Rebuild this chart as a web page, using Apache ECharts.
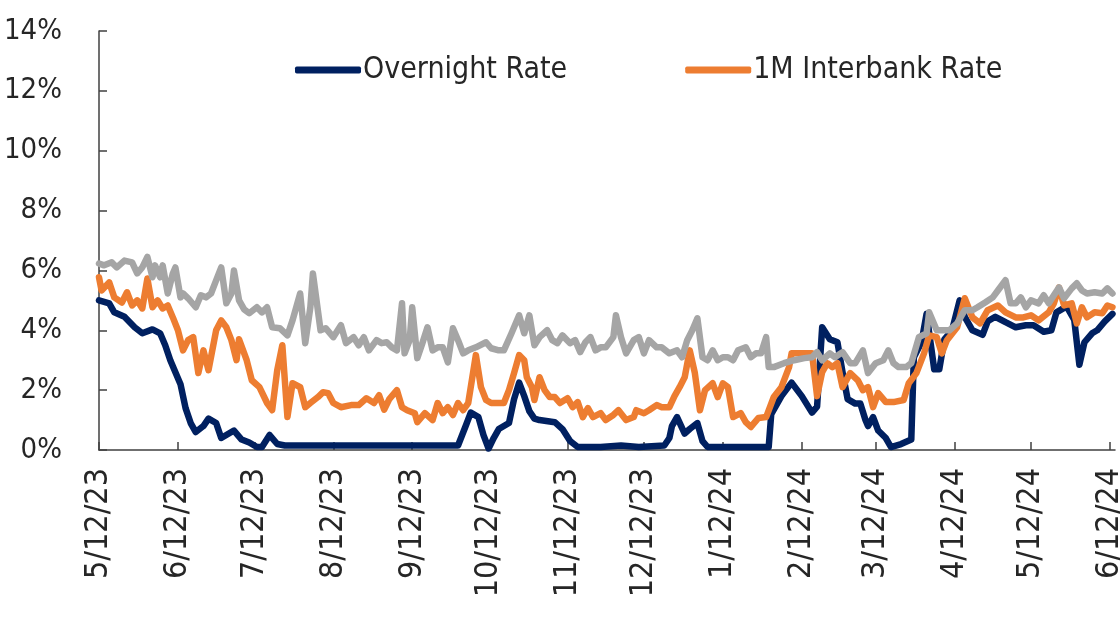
<!DOCTYPE html>
<html>
<head>
<meta charset="utf-8">
<script src="https://cdn.jsdelivr.net/npm/echarts@6/dist/echarts.min.js"></script>
<style>
  html, body { margin: 0; padding: 0; background: #fff; }
  #main { width: 1120px; height: 635px; }
</style>
</head>
<body>
<div id="main"></div>
<script>
// x values are days counted from 5/12/23
const tickDays = [0, 31, 61, 92, 123, 153, 184, 214, 245, 276, 305, 336, 366, 397];
const tickLabels = ['5/12/23', '6/12/23', '7/12/23', '8/12/23', '9/12/23', '10/12/23', '11/12/23',
  '12/12/23', '1/12/24', '2/12/24', '3/12/24', '4/12/24', '5/12/24', '6/12/24'];
const yTicks = [0, 2, 4, 6, 8, 10, 12, 14];

const overnightDays = [0, 2, 4, 6, 10, 14, 17, 21, 24, 26, 28, 30, 32, 34, 36, 38, 41, 43, 46, 48, 51, 53, 56, 59, 62, 64, 67, 70, 73, 100,
  141, 144, 146, 149, 151, 153, 155, 157, 161, 163, 165, 167, 169, 171, 173, 179, 182, 185, 188, 197, 205, 212, 222, 224, 225, 227, 230,
  232, 235, 237, 239, 263, 264, 268, 272, 276, 280, 282, 284, 287, 290, 292, 294, 297, 299, 301, 302, 304, 306, 309, 311, 315, 319, 320,
  323, 325, 328, 330, 332, 335, 338, 340, 343, 347, 349, 352, 356, 360, 364, 367, 371, 374, 376, 380, 383, 385, 387, 390, 392, 395, 398];
const overnightVals = [5.0, 4.95, 4.9, 4.6, 4.45, 4.1, 3.9, 4.03, 3.9, 3.5, 3.0, 2.6, 2.2, 1.4, 0.9, 0.6, 0.8, 1.05, 0.9, 0.4, 0.55, 0.65, 0.35, 0.25, 0.1, 0.1, 0.5, 0.2, 0.15, 0.15,
  0.15, 0.8, 1.25, 1.1, 0.5, 0.05, 0.4, 0.7, 0.9, 1.7, 2.25, 1.8, 1.3, 1.05, 1.0, 0.93, 0.7, 0.3, 0.1, 0.1, 0.15, 0.1, 0.15, 0.4, 0.8, 1.1, 0.55,
  0.7, 0.9, 0.3, 0.1, 0.1, 1.2, 1.8, 2.25, 1.8, 1.25, 1.45, 4.1, 3.7, 3.6, 2.6, 1.7, 1.55, 1.55, 1.0, 0.8, 1.1, 0.65, 0.4, 0.1, 0.2, 0.35, 3.1,
  3.6, 4.55, 2.7, 2.7, 3.7, 4.0, 5.0, 4.45, 4.0, 3.85, 4.3, 4.45, 4.27, 4.1, 4.17, 4.17, 3.95, 4.0, 4.6, 4.8, 4.35, 2.85, 3.6, 3.9, 4.0, 4.3, 4.55];

const interbankDays = [0, 1, 4, 6, 9, 11, 13, 15, 17, 19, 21, 23, 25, 27, 29, 31, 33, 35, 37, 39, 41, 43, 46, 48, 50, 52, 54, 55, 58, 60, 63, 66,
  68, 70, 72, 74, 76, 79, 81, 83, 86, 88, 90, 92, 95, 99, 102, 105, 108, 110, 112, 114, 117, 119, 121, 124, 125, 128, 131, 133, 135, 137, 139,
  141, 143, 145, 148, 150, 152, 154, 157, 159, 161, 163, 165, 167, 168, 170, 171, 173, 175, 177, 179, 181, 184, 186, 188, 190, 192, 194, 197,
  199, 202, 204, 207, 210, 211, 214, 216, 219, 221, 224, 226, 228, 230, 232, 234, 236, 238, 241, 243, 245, 247, 249, 252, 254, 256, 259, 262,
  265, 268, 271, 272, 276, 280, 282, 284, 286, 288, 290, 292, 295, 298, 300, 302, 304, 306, 309, 312, 316, 318, 321, 324, 326, 329, 331, 333,
  337, 340, 343, 346, 349, 353, 356, 360, 363, 366, 369, 373, 375, 377, 379, 382, 384, 386, 388, 391, 394, 396, 398];
const interbankVals = [5.77, 5.33, 5.6, 5.1, 4.93, 5.27, 4.83, 5.0, 4.73, 5.73, 4.77, 5.0, 4.73, 4.83, 4.43, 4.0, 3.33, 3.67, 3.77, 2.57, 3.33, 2.67, 4.0, 4.33, 4.1, 3.67, 3.0, 3.7, 3.0, 2.33, 2.1, 1.57,
  1.33, 2.67, 3.5, 1.1, 2.23, 2.1, 1.43, 1.57, 1.77, 1.93, 1.9, 1.57, 1.43, 1.5, 1.5, 1.73, 1.57, 1.83, 1.35, 1.7, 2.0, 1.43, 1.33, 1.23, 0.93, 1.23, 1.0, 1.57, 1.23, 1.43, 1.17,
  1.57, 1.33, 1.57, 3.17, 2.1, 1.67, 1.57, 1.57, 1.57, 2.0, 2.57, 3.17, 3.0, 2.43, 2.1, 1.67, 2.43, 2.0, 1.77, 1.77, 1.57, 1.73, 1.43, 1.6, 1.1, 1.4, 1.1, 1.23,
  1.0, 1.17, 1.33, 1.0, 1.1, 1.33, 1.23, 1.33, 1.5, 1.43, 1.43, 1.8, 2.1, 2.43, 3.33, 2.57, 1.33, 2.0, 2.23, 1.77, 2.23, 2.1, 1.1, 1.23, 0.93, 0.77, 1.07, 1.1,
  1.77, 2.1, 2.77, 3.23, 3.23, 3.23, 1.8, 2.6, 2.9, 2.77, 2.9, 2.1, 2.57, 2.33, 2.0, 2.1, 1.43, 1.9, 1.6, 1.6, 1.67, 2.23, 2.57, 3.23, 3.83, 3.77, 3.23, 3.67,
  4.1, 5.07, 4.43, 4.23, 4.67, 4.83, 4.6, 4.43, 4.43, 4.5, 4.33, 4.6, 4.9, 5.43, 4.83, 4.9, 4.23, 4.77, 4.43, 4.6, 4.57, 4.83, 4.77];

const greyDays = [0, 2, 5, 7, 10, 13, 15, 17, 19, 21, 22, 24, 25, 27, 29, 30, 32, 33, 35, 38, 40, 42, 44, 46, 48, 50, 52, 53, 55, 57, 59, 62, 64,
  66, 68, 71, 74, 76, 79, 81, 83, 84, 87, 89, 92, 95, 97, 100, 102, 104, 106, 109, 111, 113, 115, 117, 119, 120, 122, 123, 125, 127, 129, 131,
  133, 135, 137, 139, 141, 143, 145, 148, 152, 154, 157, 159, 162, 165, 167, 169, 171, 173, 176, 178, 180, 182, 185, 187, 189, 191, 193, 195,
  197, 199, 202, 203, 205, 207, 210, 212, 214, 216, 219, 221, 224, 227, 229, 231, 233, 235, 237, 239, 241, 243, 245, 247, 249, 251, 254, 256,
  258, 260, 262, 263, 265, 269, 273, 277, 280, 282, 284, 287, 289, 292, 295, 297, 300, 302, 305, 308, 310, 312, 314, 317, 319, 322, 325, 326,
  329, 331, 334, 337, 340, 343, 345, 348, 351, 353, 356, 358, 360, 362, 364, 366, 369, 371, 373, 375, 377, 379, 382, 384, 386, 388, 391, 394, 396, 398];
const greyVals = [6.23, 6.17, 6.27, 6.1, 6.33, 6.27, 5.9, 6.1, 6.45, 5.77, 6.17, 5.77, 6.17, 5.23, 5.9, 6.1, 5.1, 5.23, 5.07, 4.77, 5.17, 5.1, 5.23, 5.67, 6.1, 4.9, 5.23, 6.0, 5.0, 4.7, 4.57, 4.77, 4.6,
  4.77, 4.1, 4.07, 3.83, 4.33, 5.23, 3.57, 4.77, 5.9, 4.0, 4.07, 3.77, 4.17, 3.57, 3.77, 3.5, 3.77, 3.33, 3.67, 3.57, 3.6, 3.43, 3.33, 4.9, 3.23, 3.67, 4.77, 3.07, 3.57, 4.1, 3.33,
  3.43, 3.43, 2.93, 4.07, 3.67, 3.23, 3.33, 3.43, 3.6, 3.4, 3.33, 3.33, 3.9, 4.5, 3.9, 4.5, 3.5, 3.77, 4.0, 3.67, 3.57, 3.83, 3.57, 3.67, 3.27, 3.6, 3.77, 3.33,
  3.43, 3.43, 3.77, 4.5, 3.77, 3.23, 3.67, 3.77, 3.23, 3.67, 3.43, 3.43, 3.23, 3.33, 3.1, 3.67, 4.0, 4.4, 3.1, 3.0, 3.33, 3.0, 3.1, 3.1, 3.0, 3.33, 3.43, 3.1,
  3.23, 3.23, 3.77, 2.77, 2.77, 2.9, 3.0, 3.07, 3.1, 3.27, 3.0, 3.23, 3.1, 3.27, 2.9, 2.9, 3.33, 2.57, 2.9, 3.0, 3.33, 2.9, 2.77, 2.77, 2.9, 3.77, 3.9, 4.6,
  4.0, 4.0, 4.0, 4.23, 4.67, 4.67, 4.77, 4.93, 5.1, 5.33, 5.67, 4.9, 4.9, 5.1, 4.77, 5.0, 4.9, 5.17, 4.9, 5.17, 5.43, 5.07, 5.4, 5.57, 5.33, 5.23, 5.27, 5.23, 5.4, 5.23];

const pairs = (days, vals) => days.map((d, i) => [d, vals[i]]);

const font = "'DejaVu Sans Condensed', sans-serif";

const chart = echarts.init(document.getElementById('main'));

chart.setOption({
  animation: false,
  backgroundColor: '#ffffff',
  grid: {
    left: 99,
    right: 5,
    top: 31,
    bottom: 185,
    containLabel: false,
    outerBoundsMode: 'none'
  },
  legend: {
    data: ['Overnight Rate', '1M Interbank Rate'],
    left: 290,
    top: 50,
    icon: 'roundRect',
    itemWidth: 66,
    itemHeight: 7,
    itemGap: 118,
    textStyle: { fontFamily: font, fontSize: 30, color: '#262626', padding: [0, 0, 0, -3] }
  },
  xAxis: {
    type: 'value',
    min: 0,
    max: 399,
    axisLine: { show: true, onZero: false, lineStyle: { color: '#404040', width: 1.5 } },
    axisTick: { show: true, inside: true, length: 8, customValues: tickDays, lineStyle: { color: '#404040', width: 1.5 } },
    axisLabel: {
      customValues: tickDays,
      rotate: 90,
      margin: 18,
      fontFamily: font,
      fontSize: 32,
      color: '#262626',
      formatter: v => tickLabels[tickDays.indexOf(v)]
    },
    splitLine: { show: false }
  },
  yAxis: {
    type: 'value',
    min: 0,
    max: 14,
    interval: 2,
    axisLine: { show: true, lineStyle: { color: '#404040', width: 1.5 } },
    axisTick: { show: true, inside: true, length: 8, lineStyle: { color: '#404040', width: 1.5 } },
    axisLabel: {
      margin: 37,
      fontFamily: font,
      fontSize: 29,
      color: '#262626',
      formatter: v => (yTicks.includes(v) ? v + '%' : '')
    },
    splitLine: { show: false }
  },
  series: [
    {
      name: 'Overnight Rate',
      type: 'line',
      symbol: 'none',
      data: pairs(overnightDays, overnightVals),
      itemStyle: { color: '#002060' },
      lineStyle: { color: '#002060', width: 6.5, join: 'round', cap: 'round' }
    },
    {
      name: '1M Interbank Rate',
      type: 'line',
      symbol: 'none',
      data: pairs(interbankDays, interbankVals),
      itemStyle: { color: '#ED7D31' },
      lineStyle: { color: '#ED7D31', width: 6.5, join: 'round', cap: 'round' }
    },
    {
      name: 'Other',
      type: 'line',
      symbol: 'none',
      data: pairs(greyDays, greyVals),
      itemStyle: { color: '#A5A5A5' },
      lineStyle: { color: '#A5A5A5', width: 6.5, join: 'round', cap: 'round' }
    }
  ]
});
</script>
</body>
</html>
